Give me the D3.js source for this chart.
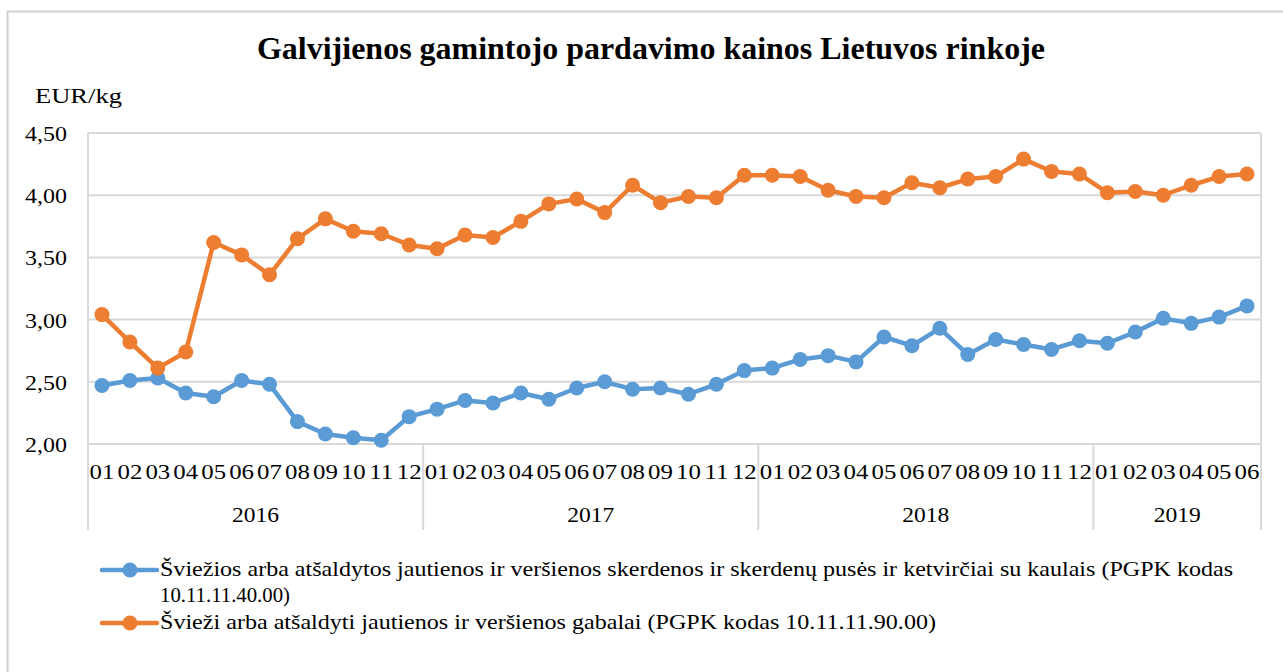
<!DOCTYPE html>
<html><head><meta charset="utf-8">
<script src="https://cdn.jsdelivr.net/npm/d3@7"></script>
<style>body{margin:0;background:#fff;}</style>
</head>
<body><svg id="c" width="1283" height="672" font-family="Liberation Serif" fill="#000"></svg>
<script>
const years = ["2016","2017","2018","2019"];
const monthsPerYear = [12,12,12,6];
const monthLabels = ["01","02","03","04","05","06","07","08","09","10","11","12"];
const seriesNames = [
  "Šviežios arba atšaldytos jautienos ir veršienos skerdenos ir skerdenų pusės ir ketvirčiai su kaulais (PGPK kodas",
  "Švieži arba atšaldyti jautienos ir veršienos gabalai (PGPK kodas 10.11.11.90.00)"
];
const seriesName1Line2 = "10.11.11.40.00)";
const carcass = [2.47,2.51,2.53,2.41,2.38,2.51,2.48,2.18,2.08,2.05,2.03,2.22,
  2.28,2.35,2.33,2.41,2.36,2.45,2.50,2.44,2.45,2.40,2.48,2.59,
  2.61,2.68,2.71,2.66,2.86,2.79,2.93,2.72,2.84,2.80,2.76,2.83,
  2.81,2.90,3.01,2.97,3.02,3.11];
const cuts = [3.04,2.82,2.61,2.74,3.62,3.52,3.36,3.65,3.81,3.71,3.69,3.60,
  3.57,3.68,3.66,3.79,3.93,3.97,3.86,4.08,3.94,3.99,3.98,4.16,
  4.16,4.15,4.04,3.99,3.98,4.10,4.06,4.13,4.15,4.29,4.19,4.17,
  4.02,4.03,4.00,4.08,4.15,4.17];
const yTicks = [2.0,2.5,3.0,3.5,4.0,4.5];
const colors = ["#5B9BD5","#ED7D31"];

const svg = d3.select("#c");
const L=88, R=1261, T=133, B=444;
const K=1.13; // horizontal stretch of the reference's text
function stretch(sel,k){sel.each(function(){const w=this.getComputedTextLength();d3.select(this).attr("textLength",w*k).attr("lengthAdjust","spacingAndGlyphs");});}

// outer frame
svg.append("rect").attr("x",7.5).attr("y",11.5).attr("width",1290).attr("height",680)
  .attr("fill","none").attr("stroke","#d0d0d0").attr("stroke-width",2);

// categories
const cats=[];
years.forEach((y,i)=>{for(let m=0;m<monthsPerYear[i];m++)cats.push(y+"-"+monthLabels[m]);});
const x = d3.scaleBand().domain(cats).range([L,R]).padding(0);
const y = d3.scaleLinear().domain([2,4.5]).range([B,T]);

// gridlines
svg.append("g").selectAll("line").data(yTicks).join("line")
  .attr("x1",L).attr("x2",R).attr("y1",d=>y(d)).attr("y2",d=>y(d))
  .attr("stroke","#d9d9d9").attr("stroke-width",2);
svg.append("line").attr("x1",L).attr("x2",L).attr("y1",T).attr("y2",B).attr("stroke","#d9d9d9").attr("stroke-width",2);
svg.append("line").attr("x1",R).attr("x2",R).attr("y1",T).attr("y2",B).attr("stroke","#d9d9d9").attr("stroke-width",2);

// y axis labels
const fmt = d=>d3.format(".2f")(d).replace(".",",");
svg.append("g").selectAll("text").data(yTicks).join("text")
  .attr("x",67).attr("y",d=>y(d)+8).attr("text-anchor","end")
  .attr("font-size",22).text(fmt).call(stretch,1.09);

svg.append("text").attr("x",35).attr("y",103).attr("font-size",22)
  .attr("textLength",87).attr("lengthAdjust","spacingAndGlyphs").text("EUR/kg");

// x axis labels (months)
svg.append("g").selectAll("text").data(cats).join("text")
  .attr("x",d=>x(d)+x.bandwidth()/2).attr("y",479).attr("text-anchor","middle")
  .attr("font-size",22).text(d=>d.split("-")[1]).call(stretch,K);

// year separators and labels
let idx=0;
const bounds=[0];
monthsPerYear.forEach(n=>{idx+=n;bounds.push(idx);});
svg.append("g").selectAll("line").data(bounds).join("line")
  .attr("x1",d=>d<cats.length?x(cats[d]):R).attr("x2",d=>d<cats.length?x(cats[d]):R)
  .attr("y1",B).attr("y2",530).attr("stroke","#d9d9d9").attr("stroke-width",2);
svg.append("g").selectAll("text").data(years).join("text")
  .attr("x",(d,i)=>{const a=x(cats[bounds[i]]);const e=bounds[i+1]<cats.length?x(cats[bounds[i+1]]):R;return (a+e)/2;})
  .attr("y",522).attr("text-anchor","middle").attr("font-size",22).text(d=>d).call(stretch,1.07);

// lines
const line = d3.line().x((d,i)=>x(cats[i])+x.bandwidth()/2).y(d=>y(d));
[carcass,cuts].forEach((s,k)=>{
  svg.append("path").datum(s).attr("d",line).attr("fill","none")
    .attr("stroke",colors[k]).attr("stroke-width",4.5).attr("stroke-linejoin","round");
  svg.append("g").selectAll("circle").data(s).join("circle")
    .attr("cx",(d,i)=>x(cats[i])+x.bandwidth()/2).attr("cy",d=>y(d)).attr("r",7.5)
    .attr("fill",colors[k]);
});

// title
svg.append("text").attr("x",651).attr("y",59).attr("text-anchor","middle")
  .attr("font-size",31).attr("font-weight","bold")
  .attr("textLength",788).attr("lengthAdjust","spacingAndGlyphs")
  .text("Galvijienos gamintojo pardavimo kainos Lietuvos rinkoje");

// legend
const legY=[570,623];
const legText=[[seriesNames[0],seriesName1Line2],[seriesNames[1]]];
const legW=[[1073,130],[776]];
legY.forEach((ly,k)=>{
  svg.append("line").attr("x1",102).attr("x2",157).attr("y1",ly).attr("y2",ly)
    .attr("stroke",colors[k]).attr("stroke-width",4.5).attr("stroke-linecap","round");
  svg.append("circle").attr("cx",130).attr("cy",ly).attr("r",7.5).attr("fill",colors[k]);
  legText[k].forEach((t,j)=>{
    svg.append("text").attr("x",160).attr("y",ly+6+j*26).attr("font-size",21)
      .attr("textLength",legW[k][j]).attr("lengthAdjust","spacingAndGlyphs").text(t);
  });
});
</script></body></html>
